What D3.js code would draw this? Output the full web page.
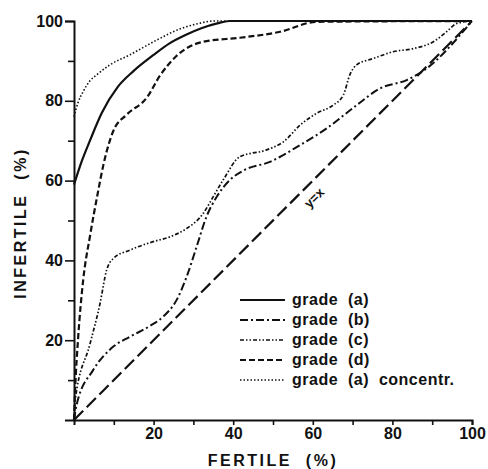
<!DOCTYPE html>
<html lang="en">
<head>
    <meta charset="UTF-8">
    <title>Fertile vs infertile</title>
    <script src="https://d3js.org/d3.v7.min.js"></script>
    <style>
        body { margin: 0; background: #fff; }
        text { font-family: "Liberation Sans", Arial, sans-serif; font-weight: bold; fill: #111; }
    </style>
</head>
<body>
    <div id="chart"></div>
    <script>
        const ancho = 488;
        const alto = 469;

        // curves (x = fertile %, y = infertile %)
        const gradeA_x = [0, 2, 4, 7, 11, 15, 20, 24, 28, 32, 36, 39, 100];
        const gradeA_y = [59, 65, 70, 77, 83.5, 87.5, 91.5, 94.4, 96.5, 98.2, 99.4, 100, 100];

        const gradeB_x = [0, 0.7, 4.8, 9.9, 14.1, 18.8, 22.4, 25.8, 28.3, 30.8, 33.3, 35.9, 39.2, 42.5, 49.2, 56.8, 63.5, 71, 76.9, 83.6, 87, 100];
        const gradeB_y = [0, 4, 12.5, 18.4, 20.9, 23.4, 25.9, 30.1, 35.9, 43.4, 51, 56, 60.2, 62.5, 64.7, 68.9, 73.1, 78.9, 83.1, 85.2, 87, 100];

        const gradeC_x = [0, 0.3, 4, 6.5, 8.2, 9.9, 14.1, 19.9, 24.1, 28.3, 32.5, 35, 37.5, 41.7, 48.4, 52.6, 56.8, 61, 65.1, 67.7, 69.3, 71, 75.2, 80.2, 85.3, 90.3, 93.6, 96.2, 100];
        const gradeC_y = [0, 5, 19, 29, 37.6, 40.5, 42.6, 44.7, 45.9, 48, 51.8, 56, 60.2, 66, 67.7, 69.7, 73.9, 76.9, 78.9, 81.5, 86.5, 89, 90.6, 92.3, 93.1, 94.8, 97.3, 99.4, 100];

        const gradeD_x = [0, 0.3, 1, 2.3, 4, 6, 7.4, 9.9, 13.2, 18.3, 21.6, 25.8, 32.5, 41.7, 51.8, 61, 100];
        const gradeD_y = [0, 8, 20, 35, 46, 57, 64, 72.5, 76.5, 80.8, 86.3, 91.3, 94.8, 95.8, 97.3, 99.8, 100];

        const concentr_x = [0, 1, 2.3, 4, 5.7, 9, 14, 20, 26.6, 31, 35, 38];
        const concentr_y = [76, 79.5, 82.3, 85, 86.5, 89, 91.5, 94.8, 98, 99.3, 100, 100];

        const diagonal = [0, 100];

        const tickValues = [10, 20, 30, 40, 50, 60, 70, 80, 90, 100];
        const legendLabels = ["grade  (a)", "grade  (b)", "grade  (c)", "grade  (d)", "grade  (a)  concentr."];

        const svg = d3.select("#chart")
            .append("svg")
            .attr("width", ancho)
            .attr("height", alto);

        const x = d3.scaleLinear().domain([0, 100]).range([74, 472]);
        const y = d3.scaleLinear().domain([0, 100]).range([420, 21]);

        // axes
        const ejeX = svg.append("g")
            .attr("transform", `translate(0,${y(0)})`)
            .call(d3.axisBottom(x)
                .tickValues(tickValues)
                .tickSizeOuter(0)
                .tickSize(5)
                .tickPadding(3)
                .tickFormat(d => d % 20 === 0 ? d : ""));

        const ejeY = svg.append("g")
            .attr("transform", `translate(${x(0)},0)`)
            .call(d3.axisLeft(y)
                .tickValues(tickValues)
                .tickSizeOuter(0)
                .tickSize(9)
                .tickPadding(2)
                .tickFormat(d => d % 20 === 0 ? d : ""));

        ejeY.selectAll(".tick").filter(d => d % 20 !== 0).select("line").attr("x2", -6);

        [ejeX, ejeY].forEach(g => {
            g.select(".domain").attr("stroke", "#111").attr("stroke-width", 2);
            g.selectAll(".tick line").attr("stroke", "#111").attr("stroke-width", 1.6);
            g.selectAll(".tick text")
                .attr("font-size", 16)
                .attr("font-family", "Liberation Sans, Arial, sans-serif")
                .attr("font-weight", "bold")
                .attr("fill", "#111");
        });

        svg.append("text")
            .attr("x", 273)
            .attr("y", 466)
            .attr("text-anchor", "middle")
            .attr("font-size", 16)
            .attr("letter-spacing", 2.5)
            .style("white-space", "pre")
            .text("FERTILE  (%)");

        svg.append("text")
            .attr("transform", "translate(26,223) rotate(-90)")
            .attr("text-anchor", "middle")
            .attr("font-size", 16)
            .attr("letter-spacing", 2.5)
            .style("white-space", "pre")
            .text("INFERTILE  (%)");

        // curves
        const linea = d3.line()
            .x(d => x(d[0]))
            .y(d => y(d[1]))
            .curve(d3.curveMonotoneX);

        const series = [
            { xs: gradeA_x, ys: gradeA_y, dash: null, w: 2.2 },
            { xs: gradeB_x, ys: gradeB_y, dash: "8,3,2,3", w: 2 },
            { xs: gradeC_x, ys: gradeC_y, dash: "4,2,1.5,2,1.5,2", w: 1.7 },
            { xs: gradeD_x, ys: gradeD_y, dash: "6,3", w: 2.2 },
            { xs: concentr_x, ys: concentr_y, dash: "1.5,2", w: 1.6 }
        ];

        series.forEach(s => {
            svg.append("path")
                .datum(d3.zip(s.xs, s.ys))
                .attr("d", linea)
                .attr("fill", "none")
                .attr("stroke", "#111")
                .attr("stroke-width", s.w)
                .attr("stroke-dasharray", s.dash);
        });

        // y = x reference
        svg.append("path")
            .datum(d3.zip(diagonal, diagonal))
            .attr("d", d3.line().x(d => x(d[0])).y(d => y(d[1])))
            .attr("fill", "none")
            .attr("stroke", "#111")
            .attr("stroke-width", 2.2)
            .attr("stroke-dasharray", "13,5");

        svg.append("text")
            .attr("transform", `translate(${x(60.5)},${y(55.5)}) rotate(-45)`)
            .attr("text-anchor", "middle")
            .attr("dominant-baseline", "middle")
            .attr("font-size", 13)
            .text("y=x");

        // legend
        const leyenda = svg.append("g");
        series.forEach((s, i) => {
            const ly = 300 + i * 20;
            leyenda.append("line")
                .attr("x1", 240).attr("x2", 285)
                .attr("y1", ly).attr("y2", ly)
                .attr("stroke", "#111")
                .attr("stroke-width", s.w)
                .attr("stroke-dasharray", s.dash);
            leyenda.append("text")
                .attr("x", 292)
                .attr("y", ly + 5)
                .attr("font-size", 16)
                .attr("letter-spacing", 0.5)
                .style("white-space", "pre")
                .text(legendLabels[i]);
        });
    </script>
</body>
</html>
